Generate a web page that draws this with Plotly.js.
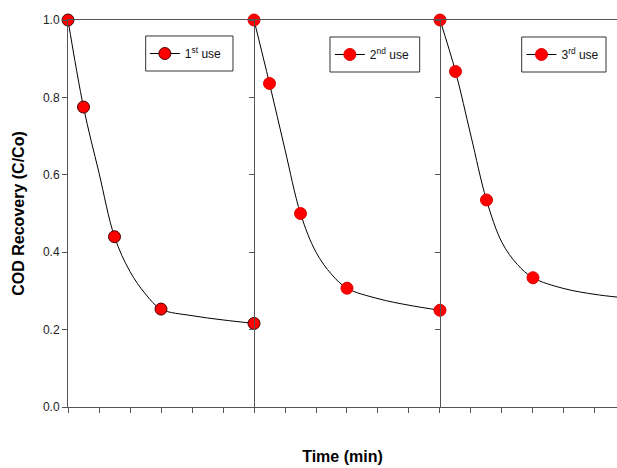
<!DOCTYPE html>
<html>
<head>
<meta charset="utf-8">
<script src="https://cdn.plot.ly/plotly-3.0.1.min.js"></script>
<style>html,body{margin:0;padding:0;background:#fff;}#chart{width:617px;height:468px;}</style>
</head>
<body>
<div id="chart"></div>
<script>
// ---- data (time in tick units, recovery C/Co) ----
const use1Time = [0, 0.5, 1.5, 3, 6];
const use1Rec  = [1.0, 0.775, 0.44, 0.253, 0.216];
const use2Time = [6, 6.5, 7.5, 9, 12];
const use2Rec  = [1.0, 0.836, 0.50, 0.307, 0.25];
const use3Time = [12, 12.5, 13.5, 15];
const use3Rec  = [1.0, 0.867, 0.535, 0.334];

// fitted curves
const fit1Time = [0, 0.5, 1, 1.5, 2, 2.5, 3, 4, 5, 6];
const fit1Rec  = [1.0, 0.775, 0.605, 0.44, 0.35, 0.292, 0.253, 0.236, 0.225, 0.216];
const fit2Time = [6, 6.5, 7, 7.5, 8, 8.5, 9, 10, 11, 12];
const fit2Rec  = [1.0, 0.836, 0.665, 0.50, 0.40, 0.343, 0.307, 0.28, 0.263, 0.25];
const fit3Time = [12, 12.5, 13, 13.5, 14, 14.5, 15, 16, 17, 17.71];
const fit3Rec  = [1.0, 0.867, 0.70, 0.535, 0.425, 0.368, 0.334, 0.306, 0.291, 0.284];

const legendNames = ['1<sup>st</sup> use', '2<sup>nd</sup> use', '3<sup>rd</sup> use'];
const yTicks = [0, 0.2, 0.4, 0.6, 0.8, 1.0];

const FONT = 'Liberation Sans, Arial, sans-serif';
const markerStyles = [
  {color: '#ff0000', size: 12, line: {color: '#4a0000', width: 1}},
  {color: '#ff0000', size: 12, line: {color: '#e00000', width: 1}},
  {color: '#ff0000', size: 12, line: {color: '#e00000', width: 1}}
];
const yaxes = ['y', 'y2', 'y3'];
const legends = ['legend', 'legend2', 'legend3'];
const fits = [[fit1Time, fit1Rec], [fit2Time, fit2Rec], [fit3Time, fit3Rec]];
const pts = [[use1Time, use1Rec], [use2Time, use2Rec], [use3Time, use3Rec]];

const traces = [];
for (let i = 0; i < 3; i++) {
  traces.push({
    x: fits[i][0], y: fits[i][1], yaxis: yaxes[i], mode: 'lines',
    line: {color: '#000', width: 1, shape: 'spline', smoothing: 1},
    showlegend: false, hoverinfo: 'skip'
  });
  traces.push({
    x: pts[i][0], y: pts[i][1], yaxis: yaxes[i], mode: 'markers',
    marker: markerStyles[i], showlegend: false, cliponaxis: false
  });
  traces.push({
    x: [null], y: [null], yaxis: yaxes[i], mode: 'lines+markers',
    name: legendNames[i], legend: legends[i],
    line: {color: '#000', width: 1}, marker: markerStyles[i], showlegend: true
  });
}

const xMax = 17.71;
const yBase = {
  range: [0, 1], tickvals: yTicks, ticks: 'outside', ticklen: 5, tickcolor: '#555',
  showline: true, linecolor: '#555', linewidth: 1, showgrid: false, zeroline: false
};
const legBase = {
  yref: 'paper', xref: 'paper', yanchor: 'middle', xanchor: 'left',
  bgcolor: 'rgba(0,0,0,0)', borderwidth: 0,
  font: {family: FONT, size: 12, color: '#111'}
};
// legend frames (paper coordinates)
const boxStyle = {type: 'rect', xref: 'paper', yref: 'paper', line: {color: '#333', width: 1}, fillcolor: '#fff', layer: 'above'};
const shapes = [
  Object.assign({}, boxStyle, {x0: 0.1415, x1: 0.3005, y0: 0.8682, y1: 0.9587}),
  Object.assign({}, boxStyle, {x0: 0.4772, x1: 0.6406, y0: 0.8656, y1: 0.9561}),
  Object.assign({}, boxStyle, {x0: 0.8264, x1: 0.9800, y0: 0.8656, y1: 0.9561})
];

const layout = {
  width: 617, height: 468,
  margin: {l: 68, r: 0, t: 20, b: 61},
  paper_bgcolor: '#fff', plot_bgcolor: '#fff',
  font: {family: FONT, color: '#222'},
  xaxis: {
    range: [0, xMax], tick0: 0, dtick: 1, ticks: 'outside', ticklen: 5, tickcolor: '#555',
    showticklabels: false, showline: true, linecolor: '#555', linewidth: 1, mirror: true,
    showgrid: false, zeroline: false,
    title: {text: '<b>Time (min)</b>', font: {family: FONT, size: 16, color: '#000'}, standoff: 38}
  },
  yaxis: Object.assign({}, yBase, {
    tickformat: '.1f', tickfont: {family: FONT, size: 12, color: '#222'},
    title: {text: '<b>COD Recovery (C/Co)</b>', font: {family: FONT, size: 16, color: '#000'}, standoff: 14}
  }),
  yaxis2: Object.assign({}, yBase, {overlaying: 'y', anchor: 'free', position: 6 / xMax, side: 'left', showticklabels: false}),
  yaxis3: Object.assign({}, yBase, {overlaying: 'y', anchor: 'free', position: 12 / xMax, side: 'left', showticklabels: false}),
  legend: Object.assign({}, legBase, {x: 0.140, y: 0.9134}),
  legend2: Object.assign({}, legBase, {x: 0.477, y: 0.9109}),
  legend3: Object.assign({}, legBase, {x: 0.826, y: 0.9109}),
  shapes: shapes,
  showlegend: true
};

Plotly.newPlot('chart', traces, layout, {staticPlot: true, displayModeBar: false});
</script>
</body>
</html>
